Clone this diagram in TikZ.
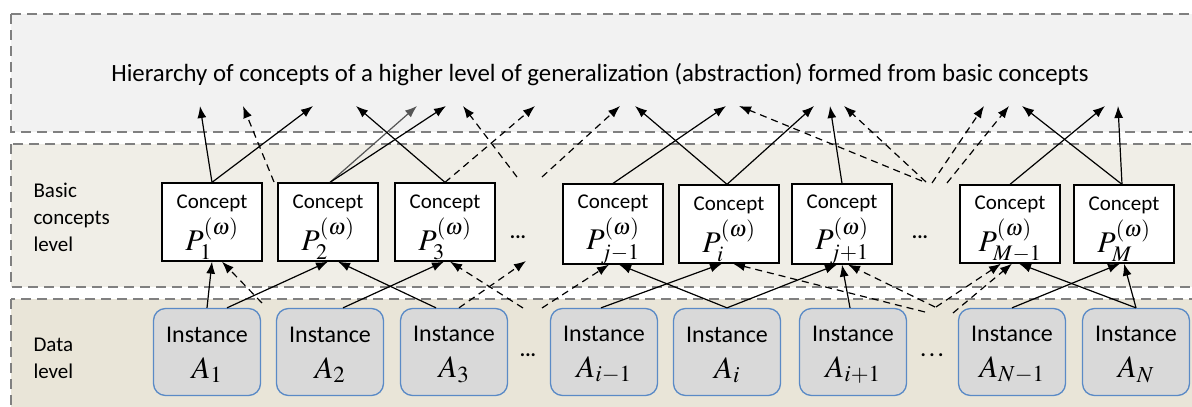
\documentclass[tikz,border=0pt]{standalone}
\usepackage{mathptmx}
\usepackage[no-math]{fontspec}
\setmainfont{Carlito}
\usetikzlibrary{arrows.meta}
\definecolor{topfill}{HTML}{F2F2F2}
\definecolor{midfill}{HTML}{F0EEE7}
\definecolor{lowfill}{HTML}{E9E5D8}
\definecolor{edge}{HTML}{808080}
\definecolor{instfill}{HTML}{D9D9D9}
\definecolor{instedge}{HTML}{5A8AC6}
\definecolor{tipgray}{HTML}{555555}
\newcommand{\conc}[1]{{\fontsize{21}{24}\selectfont\rule{0pt}{24pt}Concept}\\[5pt]{\fontsize{30}{30}\selectfont$P_{#1}^{(\omega)}$}}
\newcommand{\inst}[1]{{\fontsize{24}{28}\selectfont\rule{0pt}{21pt}Instance}\\[14pt]{\fontsize{31}{31}\selectfont$A_{#1}$}}
\tikzset{
  layer/.style={draw=edge,line width=2pt,dash pattern=on 10pt off 6pt},
  concept/.style={draw,fill=white,line width=1.3pt,minimum width=100pt,minimum height=78pt,align=center,inner sep=0pt},
  inst/.style={draw=instedge,fill=instfill,line width=1.3pt,rounded corners=12pt,minimum width=107pt,minimum height=87pt,align=center,inner sep=0pt},
  lbl/.style={anchor=west,align=left,font=\fontsize{21}{27}\selectfont},
  dots/.style={font=\fontsize{20}{24}\selectfont\bfseries},
  flow/.style={-{Latex[length=12pt,width=9pt]},line width=1.2pt},
  dflow/.style={flow,dash pattern=on 7pt off 5pt},
}

\begin{document}
\begin{tikzpicture}[x=1pt,y=-1pt]
\useasboundingbox (0,0) rectangle (1192,407);
\clip (0,0) rectangle (1192,407);
\filldraw[layer,fill=topfill] (11,14) rectangle (1210,132);
\filldraw[layer,fill=midfill] (11,144) rectangle (1210,287);
\filldraw[layer,fill=lowfill] (11,299) rectangle (1210,430);

\node[font=\fontsize{24.8}{28}\selectfont] (title) at (600,75)
  {Hierarchy of concepts of a higher level of generalization (abstraction) formed from basic concepts};
\node[lbl] (lbasic) at (30,217) {Basic\\concepts\\level};
\node[lbl] (ldata) at (30,358) {Data\\level};

\node[concept] (p1) at (212,222) {\conc{1}};
\node[concept] (p2) at (328,222) {\conc{2}};
\node[concept] (p3) at (445,222) {\conc{3}};
\node[concept] (pj1) at (613,224) {\conc{j-1}};
\node[concept] (pi) at (729,224) {\conc{i}};
\node[concept] (pj2) at (842,224) {\conc{j+1}};
\node[concept] (pm1) at (1010,224) {\conc{M-1}};
\node[concept] (pm) at (1124,224) {\conc{M}};
\node[dots] (dp1) at (518,237) {...};
\node[dots] (dp2) at (920,237) {...};

\node[inst] (a1) at (207,352) {\inst{1}};
\node[inst] (a2) at (330,352) {\inst{2}};
\node[inst] (a3) at (454,352) {\inst{3}};
\node[inst] (ai1) at (604,352) {\inst{i-1}};
\node[inst] (ai) at (727,352) {\inst{i}};
\node[inst] (ai2) at (853,352) {\inst{i+1}};
\node[inst] (an1) at (1012,352) {\inst{N-1}};
\node[inst] (an) at (1136,352) {\inst{N}};
\node[dots] (da1) at (528,355) {...};
\node[dots] (da2) at (932,355) {.\,.\,.};

\foreach \n/\x in {1/200,2/243,3/313,4/356,5/417,6/446,7/463,8/535,9/620,10/635,
  11/726,12/739,13/814,14/830,15/844,16/984,17/1009,18/1022,19/1105,20/1118}
  \coordinate (u\n) at (\x,106);
\coordinate (g1) at (274,182); \coordinate (g2) at (517,177); \coordinate (g3) at (542,177);
\coordinate (g4) at (922,181); \coordinate (g5) at (926,182); \coordinate (g6) at (932,183);
\coordinate (g7) at (947,183);
\coordinate (h1) at (262,303); \coordinate (h2) at (526,261); \coordinate (h3) at (523,308);
\coordinate (h4) at (542,308); \coordinate (h5) at (925,312); \coordinate (h6) at (935,307);
\coordinate (h7) at (936,307); \coordinate (h8) at (953,313);

\draw[flow] (p1.north) -- (u1); \draw[flow] (p1.north) -- (u3); \draw[dflow] (g1) -- (u2);
\draw[flow,tipgray] ([xshift=2pt]p2.north) -- (u5); \draw[flow] ([xshift=2pt]p2.north) -- (u6);
\draw[flow] (p3.north) -- (u4); \draw[dflow] (p3.north) -- (u8);
\draw[dflow] (g2) -- (u7); \draw[dflow] (g3) -- (u9);
\draw[flow] (pj1.north) -- (u11);
\draw[flow] ([xshift=-2pt]pi.north) -- (u10); \draw[flow] ([xshift=-2pt]pi.north) -- (u13);
\draw[flow] (pj2.north) -- (u14);
\draw[dflow] (g4) -- (u12); \draw[dflow] (g5) -- (u15); \draw[dflow] (g6) -- (u16); \draw[dflow] (g7) -- (u17);
\draw[flow] (pm1.north) -- (u19);
\draw[flow] ([xshift=-2pt]pm.north) -- (u18); \draw[flow] ([xshift=-2pt]pm.north) -- (u20);

\draw[flow] (a1.north) -- (p1.south); \draw[dflow] (h1) -- ([xshift=10pt]p1.south);
\draw[flow] ([xshift=20pt]a1.north) -- (p2.south);
\draw[flow] ([xshift=13pt]a2.north) -- ([xshift=-1pt]p3.south);
\draw[flow] ([xshift=-18pt]a3.north) -- ([xshift=10pt]p2.south);
\draw[dflow] ([xshift=5pt]a3.north) -- (h2); \draw[dflow] (h3) -- ([xshift=5pt]p3.south);
\draw[dflow] (h4) -- ([xshift=-4pt]pj1.south);
\draw[flow] ([xshift=-3pt]ai1.north) -- ([xshift=-7pt]pi.south);
\draw[flow] (ai.north) -- ([xshift=6pt]pj1.south); \draw[flow] (ai.north) -- ([xshift=-5pt]pj2.south);
\draw[flow] ([xshift=-3pt]ai2.north) -- (pj2.south);
\draw[dflow] (h5) -- ([xshift=4pt]pi.south); \draw[dflow] (h6) -- ([xshift=6pt]pj2.south);
\draw[dflow] (h7) -- ([xshift=-9pt]pm1.south); \draw[dflow] (h8) -- ([xshift=2pt]pm1.south);
\draw[flow] (an1.north) -- ([xshift=-4pt]pm.south);
\draw[flow] (an.north) -- ([xshift=9pt]pm1.south); \draw[flow] (an.north) -- (pm.south);
\end{tikzpicture}
\end{document}
